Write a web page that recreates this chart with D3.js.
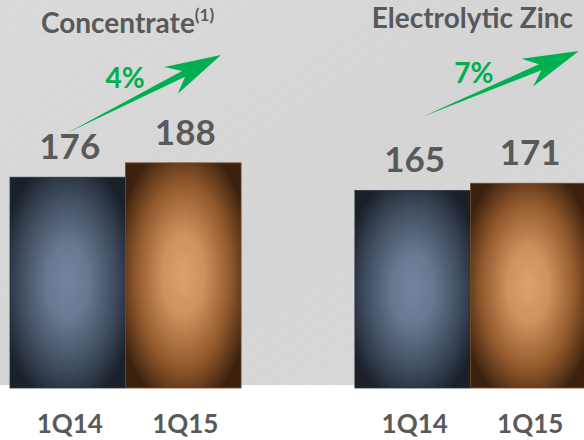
<!DOCTYPE html>
<html>
<head>
<meta charset="utf-8">
<script src="https://cdn.jsdelivr.net/npm/d3@7"></script>
<style>
  html, body { margin: 0; padding: 0; background: #ffffff; }
  svg { display: block; }
  text { font-family: Lato, "Open Sans", sans-serif; font-weight: 700; }
</style>
</head>
<body>
<div id="chart"></div>
<script>
// Production by product, first quarter comparison (thousand tonnes)
const groups = ["Concentrate", "Electrolytic Zinc"];
const groupNotes = ["(1)", ""];
const periods = ["1Q14", "1Q15"];
const concentrate = [176, 188];
const electrolyticZinc = [165, 171];
const growth = ["4%", "7%"];

const seriesByGroup = [concentrate, electrolyticZinc];

const W = 584, H = 440;
const baseY = 388;

const svg = d3.select("#chart").append("svg")
  .attr("width", W).attr("height", H);

const defs = svg.append("defs");

// panel background
const bg = defs.append("linearGradient").attr("id", "bgGrad")
  .attr("x1", 0).attr("y1", 0).attr("x2", 1).attr("y2", 1);
bg.append("stop").attr("offset", "0%").attr("stop-color", "#dadada");
bg.append("stop").attr("offset", "50%").attr("stop-color", "#d4d4d4");
bg.append("stop").attr("offset", "100%").attr("stop-color", "#d8d8d8");

// faint brushed streaks
const pat = defs.append("pattern").attr("id", "streaks")
  .attr("patternUnits", "userSpaceOnUse")
  .attr("width", 14).attr("height", 14)
  .attr("patternTransform", "rotate(-35)");
pat.append("rect").attr("width", 14).attr("height", 3)
  .attr("fill", "#ffffff").attr("opacity", 0.05);

svg.append("rect").attr("x", 0).attr("y", 0).attr("width", W).attr("height", 385)
  .attr("fill", "url(#bgGrad)");
svg.append("rect").attr("x", 0).attr("y", 0).attr("width", W).attr("height", 385)
  .attr("fill", "url(#streaks)");

// bar fills: vignette radial gradients
const fills = [
  { id: "gNavy", stops: [["0%", "#7484a0"], ["30%", "#68788f"], ["68%", "#404d60"], ["100%", "#1b212b"]] },
  { id: "gCopper", stops: [["0%", "#daa26e"], ["30%", "#cd925d"], ["68%", "#92592d"], ["100%", "#3c220e"]] }
];
fills.forEach(f => {
  const g = defs.append("radialGradient").attr("id", f.id)
    .attr("cx", "50%").attr("cy", "50%").attr("r", "60%");
  f.stops.forEach(s => g.append("stop").attr("offset", s[0]).attr("stop-color", s[1]));
});
const periodFill = d3.scaleOrdinal().domain(periods).range(["url(#gNavy)", "url(#gCopper)"]);
const periodEdge = d3.scaleOrdinal().domain(periods).range(["#2b3340", "#7a4a22"]);

// scales
const x0 = d3.scaleBand().domain(groups).range([10, 586]).paddingInner(0.33).paddingOuter(0);
const x1 = d3.scaleBand().domain(periods).range([0, x0.bandwidth()]).padding(0);
const y = d3.scaleLinear().domain([0, 324]).range([baseY, 0]);

const rows = groups.map((g, gi) => ({
  group: g, note: groupNotes[gi], growth: growth[gi], gi,
  values: periods.map((p, pi) => ({ group: g, period: p, value: seriesByGroup[gi][pi] }))
}));

const gGroups = svg.selectAll("g.grp").data(rows).join("g")
  .attr("class", "grp")
  .attr("transform", d => `translate(${x0(d.group)},0)`);

// bars
gGroups.selectAll("rect.bar").data(d => d.values).join("rect")
  .attr("class", "bar")
  .attr("x", d => x1(d.period))
  .attr("y", d => y(d.value))
  .attr("width", x1.bandwidth())
  .attr("height", d => baseY - y(d.value))
  .attr("fill", d => periodFill(d.period))
  .attr("stroke", d => periodEdge(d.period))
  .attr("stroke-width", 0.8);

// value labels
gGroups.selectAll("text.val").data(d => d.values).join("text")
  .attr("class", "val")
  .attr("x", d => x1(d.period) + x1.bandwidth() / 2 + 2)
  .attr("y", d => y(d.value) - 18)
  .attr("text-anchor", "middle")
  .attr("font-size", 35)
  .attr("fill", "#595959")
  .text(d => d.value);

// category labels under bars
gGroups.selectAll("text.cat").data(d => d.values).join("text")
  .attr("class", "cat")
  .attr("x", d => x1(d.period) + x1.bandwidth() / 2 + 2)
  .attr("y", 433)
  .attr("text-anchor", "middle")
  .attr("font-size", 26)
  .attr("fill", "#595959")
  .text(d => d.period);

// group titles
const titleBase = [33, 28];
const titles = gGroups.append("text")
  .attr("x", x0.bandwidth() / 2 + 2)
  .attr("y", d => titleBase[d.gi])
  .attr("text-anchor", "middle")
  .attr("font-size", 28)
  .attr("fill", "#595959");
titles.append("tspan").text(d => d.group);
titles.filter(d => d.note).append("tspan")
  .attr("font-size", 17)
  .attr("dy", -12)
  .text(d => d.note);

// growth arrows: tapered shaft with a swept head
const arrowSpec = [
  { tail: [57, 133], tip: [211, 55], label: [115, 88] },
  { tail: [67, 117], tip: [224, 51], label: [119, 83] }
];
function arrowPath(t, p) {
  const dx = p[0] - t[0], dy = p[1] - t[1];
  const L = Math.hypot(dx, dy);
  const ux = dx / L, uy = dy / L, nx = -uy, ny = ux;
  const pt = (a, b) => [t[0] + ux * a + nx * b, t[1] + uy * a + ny * b];
  const pts = [
    pt(0, 0),
    pt(L - 42, -3.2),
    pt(L - 56, -15),
    pt(L, 0),
    pt(L - 56, 15),
    pt(L - 42, 3.2)
  ];
  return "M" + pts.map(q => q.join(",")).join("L") + "Z";
}
gGroups.append("path")
  .attr("d", d => arrowPath(arrowSpec[d.gi].tail, arrowSpec[d.gi].tip))
  .attr("fill", "#00b050");

gGroups.append("text")
  .attr("x", d => arrowSpec[d.gi].label[0])
  .attr("y", d => arrowSpec[d.gi].label[1])
  .attr("text-anchor", "middle")
  .attr("font-size", 28)
  .attr("fill", "#00b050")
  .text(d => d.growth);
</script>
</body>
</html>
